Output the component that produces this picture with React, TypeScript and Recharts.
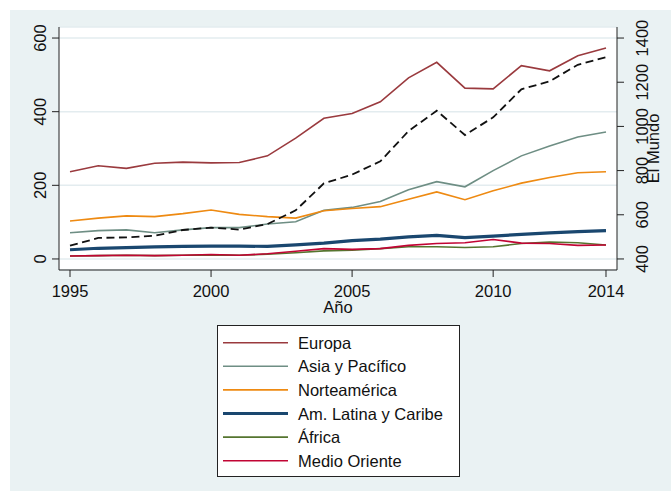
import React from 'react';
import { LineChart, Line, XAxis, YAxis, CartesianGrid, Legend, Label } from 'recharts';

const years = [1995, 1996, 1997, 1998, 1999, 2000, 2001, 2002, 2003, 2004, 2005, 2006, 2007, 2008, 2009, 2010, 2011, 2012, 2013, 2014];
const europa = [237, 253, 246, 260, 263, 261, 262, 280, 328, 382, 395, 427, 492, 534, 464, 462, 525, 511, 552, 573];
const asiaPacifico = [71, 77, 79, 71, 79, 85, 85, 95, 101, 132, 140, 156, 188, 210, 196, 240, 280, 307, 331, 345];
const norteamerica = [103, 111, 117, 115, 123, 133, 121, 115, 111, 131, 137, 142, 162, 182, 161, 185, 206, 221, 234, 237];
const amLatina = [25, 29, 31, 33, 34, 35, 35, 34, 38, 43, 50, 54, 60, 64, 58, 62, 67, 71, 74, 77];
const africa = [8, 9, 10, 9, 10, 11, 10, 13, 17, 22, 24, 28, 33, 33, 31, 33, 42, 46, 44, 38];
const medioOriente = [8, 9, 10, 9, 10, 12, 10, 14, 21, 28, 26, 28, 37, 42, 44, 53, 43, 42, 37, 38];
const elMundo = [460, 495, 498, 505, 531, 542, 533, 558, 620, 742, 782, 842, 979, 1071, 961, 1041, 1168, 1204, 1279, 1313];

const xTicks = [1995, 2000, 2005, 2010, 2014];
const leftTicks = [0, 200, 400, 600];
const rightTicks = [400, 600, 800, 1000, 1200, 1400];

const seriesKeys = ['europa', 'asia', 'norte', 'amlat', 'africa', 'medio'];
const seriesNames = ['Europa', 'Asia y Pacífico', 'Norteamérica', 'Am. Latina y Caribe', 'África', 'Medio Oriente'];
const seriesColors = ['#9a3a3e', '#6e8e84', '#ee8a12', '#1a476f', '#55752f', '#c10534'];
const seriesWidths = [1.6, 1.6, 1.6, 3.2, 1.6, 1.6];
const seriesValues = [europa, asiaPacifico, norteamerica, amLatina, africa, medioOriente];

const data = years.map((y, i) => {
  const row: any = { year: y, mundo: elMundo[i] };
  seriesKeys.forEach((k, j) => { row[k] = seriesValues[j][i]; });
  return row;
});

const FONT = '"Liberation Sans", Arial, sans-serif';
const FS = 16.5;
const TXT = '#111';

const VTick = (p: any) => (
  <g transform={`translate(${p.x},${p.y}) rotate(-90)`}>
    <text x={0} y={0} textAnchor="middle" dy="0.36em" fontSize={FS} fontFamily={FONT} fill={TXT}>
      {p.payload.value}
    </text>
  </g>
);

const XTick = (p: any) => (
  <text x={p.x} y={p.y} textAnchor="middle" fontSize={FS} fontFamily={FONT} fill={TXT}>
    {p.payload.value}
  </text>
);

const LegendBox = () => (
  <svg width={243} height={152} style={{ display: 'block' }}>
    <rect x={0.5} y={0.5} width={242} height={151} fill="#fff" stroke="#222" strokeWidth={1} />
    {seriesNames.map((n, i) => {
      const cy = 17.7 + i * 23.6;
      return (
        <g key={n}>
          <line x1={6} x2={71} y1={cy} y2={cy} stroke={seriesColors[i]} strokeWidth={seriesWidths[i]} />
          <text x={81} y={cy + 6} fontSize={FS} fontFamily={FONT} fill={TXT}>{n}</text>
        </g>
      );
    })}
  </svg>
);

export default function App() {
  return (
    <div style={{ position: 'absolute', left: 0, top: 0, width: 671, height: 491, background: '#fff', overflow: 'hidden' }}>
      <div style={{ position: 'absolute', left: 10, top: 10, width: 661, height: 481, background: '#eaf2f3' }} />
      <div style={{ position: 'absolute', left: 0, top: 0 }}>
        <LineChart width={671} height={491} data={data} margin={{ top: 27, right: 0, left: 0, bottom: 171 }}>
          <CartesianGrid yAxisId="left" horizontal={true} vertical={false} fill="#ffffff" stroke="#e3ecef" strokeWidth={1.5} />
          <XAxis
            dataKey="year"
            type="number"
            domain={[1994.61, 2014.39]}
            ticks={xTicks}
            allowDataOverflow
            height={50}
            tickSize={7}
            tickMargin={20}
            tick={<XTick />}
            stroke="#222"
            tickLine={{ stroke: '#222' }}
          >
            <Label
              position="bottom"
              content={(p: any) => {
                const vb = p.viewBox || {};
                return (
                  <text x={(vb.x ?? 59) + (vb.width ?? 558) / 2} y={313} textAnchor="middle" fontSize={FS} fontFamily={FONT} fill={TXT}>
                    Año
                  </text>
                );
              }}
            />
          </XAxis>
          <YAxis
            yAxisId="left"
            orientation="left"
            width={59}
            domain={[-30, 630]}
            ticks={leftTicks}
            allowDataOverflow
            tickSize={7}
            tickMargin={12}
            tick={<VTick />}
            stroke="#222"
          />
          <YAxis
            yAxisId="right"
            orientation="right"
            width={54}
            domain={[350, 1450]}
            ticks={rightTicks}
            allowDataOverflow
            tickSize={7}
            tickMargin={18}
            tick={<VTick />}
            stroke="#222"
          >
            <Label
              position="center"
              content={(p: any) => {
                const vb = p.viewBox || {};
                const cy = (vb.y ?? 27) + (vb.height ?? 243) / 2;
                return (
                  <g transform={`translate(653,${cy}) rotate(-90)`}>
                    <text x={0} y={0} textAnchor="middle" dy="0.36em" fontSize={FS} fontFamily={FONT} fill={TXT}>
                      El Mundo
                    </text>
                  </g>
                );
              }}
            />
          </YAxis>
          {seriesKeys.map((k, i) => (
            <Line
              key={k}
              yAxisId="left"
              type="linear"
              dataKey={k}
              name={seriesNames[i]}
              stroke={seriesColors[i]}
              strokeWidth={seriesWidths[i]}
              dot={false}
              activeDot={false}
              isAnimationActive={false}
            />
          ))}
          <Line
            yAxisId="right"
            type="linear"
            dataKey="mundo"
            name="El Mundo"
            stroke="#111"
            strokeWidth={1.8}
            strokeDasharray="8 4.5"
            dot={false}
            activeDot={false}
            legendType="none"
            isAnimationActive={false}
          />
          <Legend
            layout="vertical"
            align="center"
            verticalAlign="middle"
            wrapperStyle={{ left: 217, top: 325, width: 243, height: 152 }}
            content={() => <LegendBox />}
          />
        </LineChart>
      </div>
    </div>
  );
}
